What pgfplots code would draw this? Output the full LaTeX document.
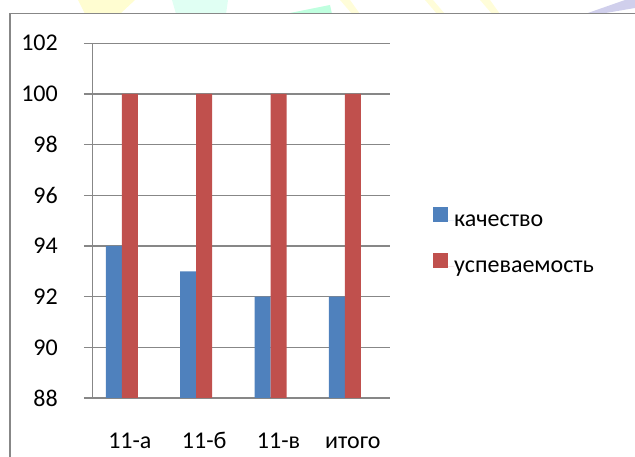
\documentclass[border=0pt]{standalone}
\usepackage{pgfplots}
\pgfplotsset{compat=1.18}
\usepackage{fontspec}
\setmainfont{Carlito}
\definecolor{xblue}{HTML}{4F81BD}
\definecolor{xred}{HTML}{C0504D}
\definecolor{xgrid}{HTML}{878787}
\begin{document}
\begin{tikzpicture}[x=1pt,y=1pt]
\path[use as bounding box] (0pt,0pt) rectangle (635pt,457pt);
% faint watermark strip above the frame
\fill[yellow!18] (78pt,457pt) -- (135pt,457pt) -- (120pt,443pt) -- (85pt,443pt) -- cycle;
\fill[green!40!cyan!12] (172pt,457pt) -- (228pt,457pt) -- (226pt,443pt) -- (176pt,443pt) -- cycle;
\fill[green!50!cyan!25] (285pt,443pt) -- (330pt,452pt) -- (332pt,443pt) -- cycle;
\fill[yellow!15] (340pt,457pt) -- (350pt,457pt) -- (360pt,443pt) -- (352pt,443pt) -- cycle;
\fill[yellow!15] (425pt,457pt) -- (433pt,457pt) -- (445pt,443pt) -- (437pt,443pt) -- cycle;
\fill[yellow!15] (480pt,457pt) -- (490pt,457pt) -- (500pt,443pt) -- (492pt,443pt) -- cycle;
\fill[cyan!20!blue!18] (585pt,443pt) -- (625pt,457pt) -- (635pt,457pt) -- (635pt,449pt) -- (600pt,443pt) -- cycle;
% outer frame
\draw[xgrid, line width=1.4pt] (10pt,-5pt) -- (10pt,443.7pt) -- (640pt,443.7pt);
\begin{axis}[
  at={(92.7pt,59pt)}, anchor=south west,
  scale only axis, width=297.3pt, height=354.7pt,
  xmin=-0.5, xmax=3.5, ymin=88, ymax=102,
  ytick={88,90,...,102},
  xtick={0,1,2,3},
  xticklabels={11-а,11-б,11-в,итого},
  minor xtick={-0.5,0.5,1.5,2.5,3.5},
  axis x line*=bottom, axis y line*=left,
  axis line style={xgrid, line width=1.3pt, -},
  ymajorgrids, grid style={xgrid, line width=1.3pt},
  tick align=outside,
  major tick length=8.7pt, minor tick length=8pt,
  xtick style={draw=none},
  ytick style={xgrid, line width=1.3pt},
  minor tick style={xgrid, line width=1.3pt},
  xminorgrids=false,
  /pgf/number format/assume math mode=true,
  tick label style={font=\fontsize{24}{28}\selectfont, text=black},
  yticklabel style={anchor=east, inner sep=0pt, xshift=-26pt},
  xticklabel style={anchor=base, inner sep=0pt, yshift=-42pt},
  bar width=16pt,
  legend style={draw=none, fill=none, inner sep=0pt, at={(1.1446,0.4465)}, anchor=west,
    font=\fontsize{24}{28}\selectfont, row sep=26pt,
    nodes={inner sep=0pt, anchor=west, text height=12pt, text depth=0pt},
    column sep=0pt},
  legend cell align=left,
  legend image code/.code={\fill[#1] (0pt,-1pt) rectangle (15pt,14pt); \path (0pt,0pt) -- (21pt,0pt);},
]
\addplot[ybar, bar shift=-16pt, fill=xblue, draw=none] coordinates {(0,94) (1,93) (2,92) (3,92)};
\addplot[ybar, bar shift=0pt, fill=xred, draw=none] coordinates {(0,100) (1,100) (2,100) (3,100)};
\legend{качество,успеваемость}
\end{axis}
\end{tikzpicture}
\end{document}
